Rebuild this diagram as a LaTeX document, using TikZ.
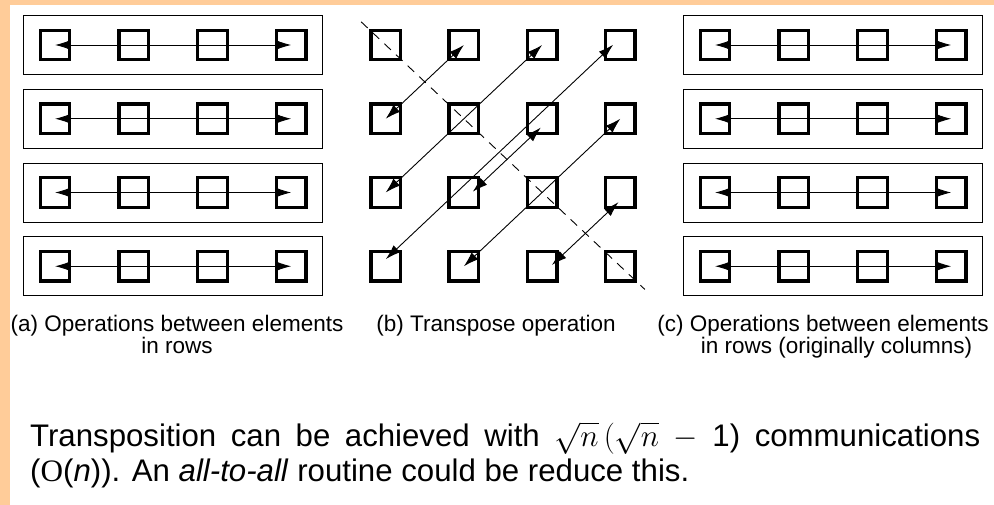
\RequirePackage{fix-cm}
\documentclass[tikz,border=0pt]{standalone}
\usepackage{fontspec}
\setmainfont{Liberation Sans}
\newfontfamily\serifO{Liberation Serif}
\usetikzlibrary{arrows.meta,calc}
\definecolor{Peach}{RGB}{255,204,153}

\begin{document}
\begin{tikzpicture}[x=1pt, y=-1pt, >={Latex[length=15pt,width=9.5pt]}, line join=miter,
    cellbox/.style={draw, line width=3.4pt, minimum size=29.5pt, inner sep=0pt},
    rowbox/.style={draw, line width=0.9pt, minimum width=299pt, minimum height=59pt, inner sep=0pt},
    xchg/.style={<->, line width=0.9pt},
    captext/.style={font=\fontsize{22.5}{18}\selectfont, anchor=base, inner sep=0pt},
    notetext/.style={font=\fontsize{31.2}{37}\selectfont, anchor=base west, inner sep=0pt}]
  \useasboundingbox (0,0) rectangle (994,505);
  \fill[Peach] (0,0) rectangle (994,505);
  \fill[white] (10,5) rectangle (994,505);

  \def\rowsep{73.75}
  \def\colsep{78.75}

  % (a) and (c): one box per row
  \foreach \p/\xo in {a/0, c/660}{
    \foreach \r in {1,...,4}{
      \pgfmathsetmacro{\yy}{45+\rowsep*(\r-1)}
      \node[rowbox] (\p-row\r) at ({173+\xo},\yy) {};
      \foreach \c in {1,...,4}
        \node[cellbox] (\p-\r-\c) at ({55+\xo+\colsep*(\c-1)},\yy) {};
      \draw[xchg] (\p-\r-1.center) -- (\p-\r-4.center);
    }
  }

  % (b): 4x4 grid
  \foreach \r in {1,...,4}
    \foreach \c in {1,...,4}
      \node[cellbox] (b-\r-\c) at ({385.7+78.2*(\c-1)},{45+\rowsep*(\r-1)}) {};

  \draw[line width=0.9pt, dash pattern=on 9pt off 7pt]
    ($(b-1-1.center)!-0.105!(b-4-4.center)$) -- ($(b-4-4.center)!-0.105!(b-1-1.center)$);

  % swaps: from/to/shift/cut
  \foreach \pa/\pb/\dx/\dy/\cut in {1-2/2-1/0/0/0, 1-3/3-1/0/0/0, 2-4/4-2/0/0/0,
      1-4/4-1/-3.5/-3.7/5, 2-3/3-2/3.8/4/7, 3-4/4-3/4/4.2/8}
    \draw[xchg, shorten <=\cut pt, shorten >=\cut pt]
      ([shift={(\dx,\dy)}]b-\pa.center) -- ([shift={(\dx,\dy)}]b-\pb.center);

  % captions
  \node[captext] (capA1) at (177,331.5) {(a) Operations between elements};
  \node[captext] (capA2) at (177,353) {in rows};
  \node[captext] (capB) at (496,331.5) {(b) Transpose operation};
  \node[captext] (capC1) at (823,331.5) {(c) Operations between elements};
  \node[captext] (capC2) at (836.5,353) {in rows (originally columns)};

  \node[notetext] (note1) at (30,446) {\makebox[950pt][s]{Transposition can be achieved with $\sqrt{n}\,(\sqrt{n}$ $-$ 1) communications}};
  \node[notetext] (note2) at (30,481) {({\serifO O}(\textit{n})). An \textit{all-to-all} routine could be reduce this.};
\end{tikzpicture}
\end{document}
